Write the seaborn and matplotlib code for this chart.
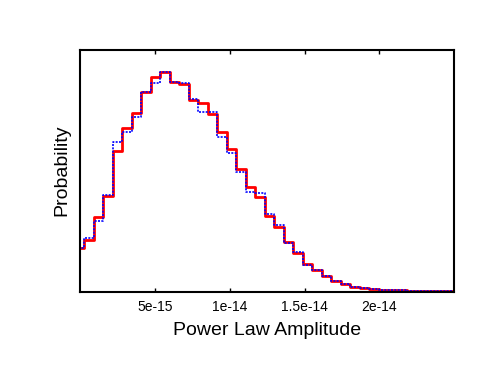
import numpy as np
import pandas as pd
import seaborn as sns
import matplotlib.pyplot as plt

# histogram bins (Power Law Amplitude)
bin_start = -3.44e-16
bin_width = 6.34e-16

# relative bin heights, two runs
red_counts = [43.4, 51.7, 75.0, 95.7, 141.0, 163.4, 179.0, 200.0, 214.4, 220.0,
              210.0, 208.0, 191.7, 188.4, 177.7, 160.0, 142.7, 122.4, 104.4, 95.0,
              76.0, 65.0, 50.0, 39.0, 27.4, 21.7, 15.7, 11.0, 7.4, 5.0,
              3.4, 2.7, 2.0, 1.7, 1.4, 1.0, 0.8, 0.6, 0.5, 0.4]
blue_counts = [43.4, 53.4, 70.7, 96.7, 150.0, 160.0, 174.4, 200.0, 208.4, 220.0,
               210.0, 208.4, 192.4, 180.0, 179.4, 154.4, 139.0, 119.4, 100.0, 99.0,
               77.4, 66.7, 48.4, 40.0, 26.7, 21.7, 16.0, 11.0, 7.4, 5.0,
               3.4, 2.7, 2.0, 1.7, 1.4, 1.0, 0.8, 0.6, 0.5, 0.4]

xticks = [5e-15, 1e-14, 1.5e-14, 2e-14]
xtick_labels = ["5e-15", "1e-14", "1.5e-14", "2e-14"]

n_bins = len(red_counts)
edges = bin_start + bin_width * np.arange(n_bins + 1)
centers = 0.5 * (edges[:-1] + edges[1:])
df_red = pd.DataFrame({"amp": centers, "w": red_counts})
df_blue = pd.DataFrame({"amp": centers, "w": blue_counts})

sns.set_style("ticks")
plt.rcParams["font.family"] = ["Liberation Sans", "DejaVu Sans"]
plt.rcParams["text.color"] = "black"
plt.rcParams["axes.labelcolor"] = "black"
plt.rcParams["xtick.color"] = "black"

fig = plt.figure(figsize=(4.91, 3.79), dpi=100)
ax = fig.add_axes([0.163, 0.230, 0.762, 0.639])

sns.histplot(data=df_red, x="amp", weights="w", bins=list(edges), element="step",
             fill=False, color="#ff0000", linewidth=2.0, ax=ax)
sns.histplot(data=df_blue, x="amp", weights="w", bins=list(edges), element="step",
             fill=False, color="#0000ff", linewidth=1.2, linestyle=(0, (1.2, 0.8)), ax=ax)

ax.set_xlim(0, 2.5e-14)
ax.set_ylim(0, 242.2)
ax.set_xticks(xticks)
ax.set_xticklabels(xtick_labels, fontsize=10, color="black")
ax.set_yticks([])
ax.tick_params(axis="x", direction="in", top=True, length=3, width=1.0, pad=6,
               colors="black")
ax.set_xlabel("Power Law Amplitude", fontsize=14, labelpad=6, color="black")
ax.set_ylabel("Probability", fontsize=14, labelpad=7, color="black")
for s in ax.spines.values():
    s.set_linewidth(1.5)
    s.set_color("black")

fig.savefig("out.png", dpi=100)
